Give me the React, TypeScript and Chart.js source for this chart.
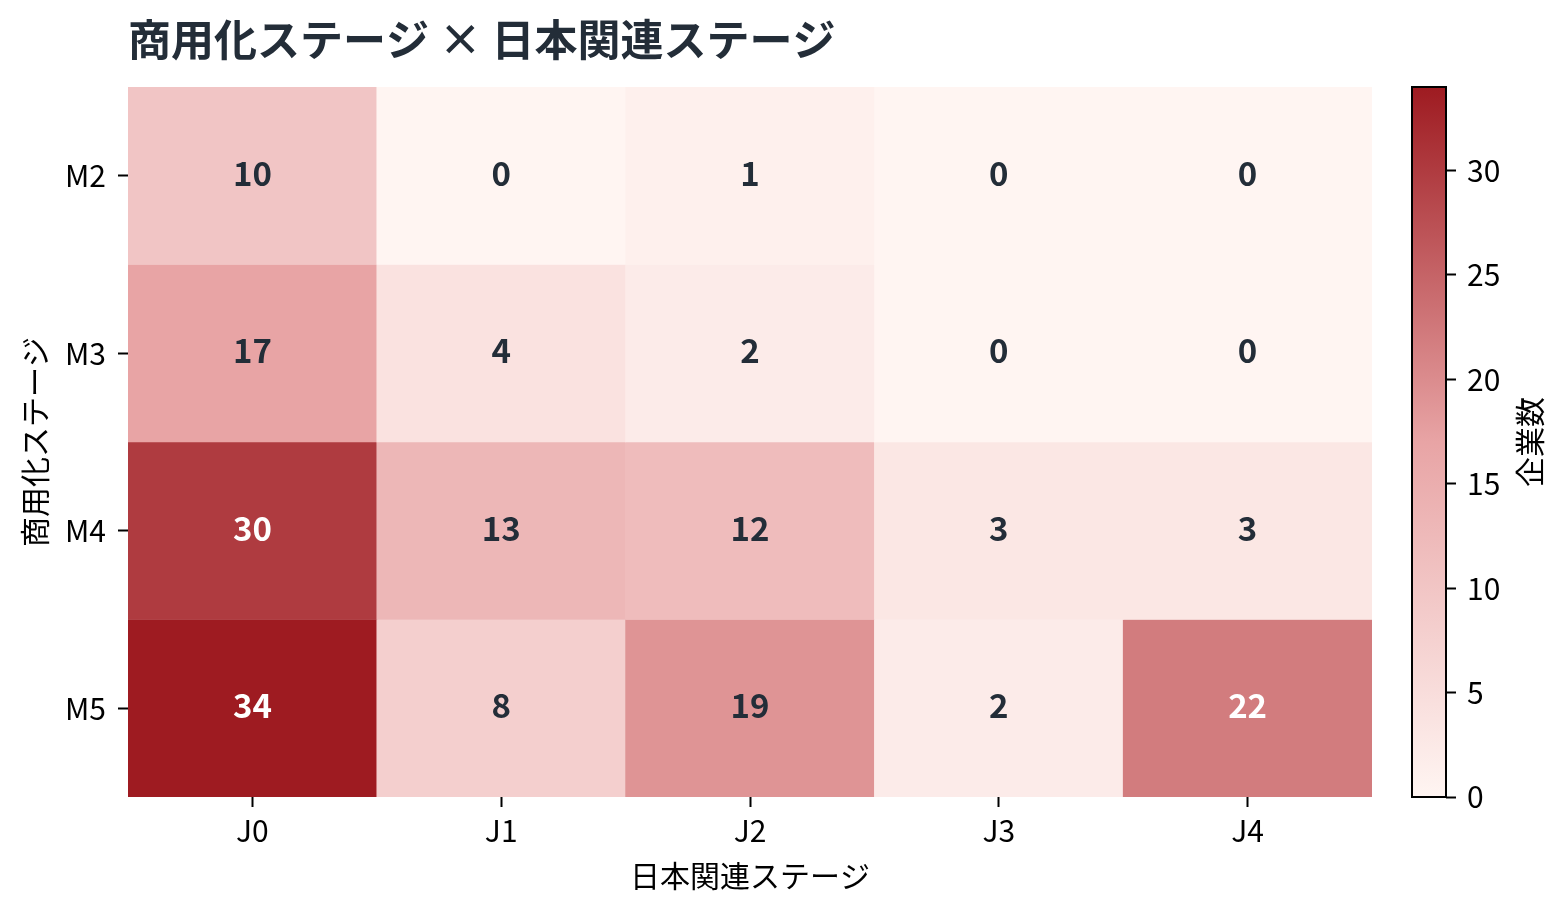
import React, { useEffect, useRef } from 'react';
import { Chart, registerables } from 'chart.js';

Chart.register(...registerables);

// ---- data ----
const columns = ['J0', 'J1', 'J2', 'J3', 'J4'];
const rows = ['M2', 'M3', 'M4', 'M5'];
const m2Counts = [10, 0, 1, 0, 0];
const m3Counts = [17, 4, 2, 0, 0];
const m4Counts = [30, 13, 12, 3, 3];
const m5Counts = [34, 8, 19, 2, 22];
const counts = [m2Counts, m3Counts, m4Counts, m5Counts];
const colorbarTicks = [0, 5, 10, 15, 20, 25, 30];
const colorMax = 34;
const titleText = '商用化ステージ × 日本関連ステージ';
const xTitle = '日本関連ステージ';
const yTitle = '商用化ステージ';
const cbTitle = '企業数';

// ---- style ----
const FONT = '"Noto Sans CJK JP", "Noto Sans", sans-serif';
const DARK = '#232d38';
const stops: [number, number[]][] = [
  [0, [255, 245, 242]],
  [0.5, [232, 164, 165]],
  [1, [158, 27, 33]],
];

function colorFor(v: number): string {
  const t = Math.max(0, Math.min(1, v / colorMax));
  for (let k = 0; k < stops.length - 1; k++) {
    const [t0, c0] = stops[k];
    const [t1, c1] = stops[k + 1];
    if (t <= t1) {
      const f = (t - t0) / (t1 - t0);
      const c = c0.map((a, idx) => Math.round(a + (c1[idx] - a) * f));
      return `rgb(${c[0]},${c[1]},${c[2]})`;
    }
  }
  const c = stops[stops.length - 1][1];
  return `rgb(${c[0]},${c[1]},${c[2]})`;
}

function textColorFor(v: number): string {
  return v > colorMax * 0.6 ? '#ffffff' : DARK;
}

const cellLabels = {
  id: 'cellLabels',
  afterDatasetsDraw(chart: any) {
    const ctx = chart.ctx;
    ctx.save();
    ctx.font = `bold 33px ${FONT}`;
    ctx.textAlign = 'center';
    ctx.textBaseline = 'middle';
    chart.data.datasets.forEach((_ds: any, i: number) => {
      const meta = chart.getDatasetMeta(i);
      meta.data.forEach((el: any, j: number) => {
        const v = counts[i][j];
        ctx.fillStyle = textColorFor(v);
        ctx.fillText(String(v), el.x, (el.y + el.base) / 2 - 2.5);
      });
    });
    ctx.restore();
  },
};

const mainTitle = {
  id: 'mainTitle',
  afterDraw(chart: any) {
    const ctx = chart.ctx;
    ctx.save();
    ctx.font = `bold 43px ${FONT}`;
    ctx.fillStyle = DARK;
    ctx.textAlign = 'left';
    ctx.textBaseline = 'middle';
    ctx.fillText(titleText, chart.chartArea.left, 40);
    ctx.restore();
  },
};

const cbFrame = {
  id: 'cbFrame',
  afterDraw(chart: any) {
    const ctx = chart.ctx;
    const a = chart.chartArea;
    ctx.save();
    ctx.strokeStyle = '#000';
    ctx.lineWidth = 2;
    ctx.strokeRect(a.left, a.top, a.right - a.left, a.bottom - a.top);
    ctx.font = `30px ${FONT}`;
    ctx.fillStyle = '#000';
    ctx.textAlign = 'center';
    ctx.textBaseline = 'middle';
    ctx.translate(a.right + 84, (a.top + a.bottom) / 2);
    ctx.rotate(-Math.PI / 2);
    ctx.fillText(cbTitle, 0, 0);
    ctx.restore();
  },
};

export default function App() {
  const mainRef = useRef<HTMLCanvasElement>(null);
  const cbRef = useRef<HTMLCanvasElement>(null);

  useEffect(() => {
    document.body.style.margin = '0';
    const tickFont = { family: FONT, size: 30 };

    const main = new Chart(mainRef.current as HTMLCanvasElement, {
      type: 'bar',
      data: {
        labels: columns,
        datasets: rows.map((r, i) => ({
          label: r,
          data: columns.map(() => [i, i + 1]),
          backgroundColor: counts[i].map(colorFor),
          borderWidth: 0,
          barPercentage: 1,
          categoryPercentage: 1,
          grouped: false,
        })) as any,
      },
      options: {
        animation: false,
        responsive: true,
        maintainAspectRatio: false,
        layout: { padding: { left: 0, top: 87, right: 28, bottom: 0 } },
        plugins: {
          legend: { display: false },
          tooltip: { enabled: false },
          title: { display: false },
        },
        scales: {
          x: {
            type: 'category',
            offset: true,
            grid: {
              offset: false,
              drawOnChartArea: false,
              drawTicks: true,
              tickLength: 10,
              tickWidth: 2,
              tickColor: '#000',
            },
            border: { display: false },
            ticks: { color: '#000', font: tickFont, padding: 6, maxRotation: 0, autoSkip: false },
            title: {
              display: true,
              text: xTitle,
              color: '#000',
              font: tickFont,
              padding: { top: 0, bottom: 22 },
            },
            afterFit: (s: any) => {
              s.height = 119;
            },
          },
          y: {
            type: 'linear',
            min: 0,
            max: rows.length,
            reverse: true,
            afterBuildTicks: (s: any) => {
              s.ticks = rows.map((_r, i) => ({ value: i + 0.5 }));
            },
            grid: {
              drawOnChartArea: false,
              drawTicks: true,
              tickLength: 10,
              tickWidth: 2,
              tickColor: '#000',
            },
            border: { display: false },
            ticks: {
              color: '#000',
              font: tickFont,
              padding: 12,
              autoSkip: false,
              callback: (_v: any, i: number) => rows[i],
            },
            title: {
              display: true,
              text: yTitle,
              color: '#000',
              font: tickFont,
              padding: { top: 17, bottom: 0 },
            },
            afterFit: (s: any) => {
              s.width = 128;
            },
          },
        },
      } as any,
      plugins: [cellLabels, mainTitle],
    });

    const cb = new Chart(cbRef.current as HTMLCanvasElement, {
      type: 'bar',
      data: {
        labels: [cbTitle],
        datasets: [
          {
            data: [[0, colorMax]] as any,
            backgroundColor: (c: any) => {
              const chart = c.chart;
              const ys = chart.scales && chart.scales.y;
              if (!chart.chartArea || !ys) return colorFor(colorMax / 2);
              const g = chart.ctx.createLinearGradient(
                0,
                ys.getPixelForValue(0),
                0,
                ys.getPixelForValue(colorMax)
              );
              stops.forEach(([t, col]) => g.addColorStop(t, `rgb(${col[0]},${col[1]},${col[2]})`));
              return g;
            },
            borderWidth: 0,
            barPercentage: 1,
            categoryPercentage: 1,
          },
        ],
      },
      options: {
        animation: false,
        responsive: true,
        maintainAspectRatio: false,
        layout: { padding: { left: 32, top: 87, right: 0, bottom: 119 } },
        plugins: { legend: { display: false }, tooltip: { enabled: false } },
        scales: {
          x: { display: false },
          y: {
            position: 'right',
            min: 0,
            max: colorMax,
            afterBuildTicks: (s: any) => {
              s.ticks = colorbarTicks.map((v) => ({ value: v }));
            },
            grid: {
              drawOnChartArea: false,
              drawTicks: true,
              tickLength: 10,
              tickWidth: 2,
              tickColor: '#000',
            },
            border: { display: false },
            ticks: { color: '#000', font: tickFont, padding: 11 },
            afterFit: (s: any) => {
              s.width = 122;
            },
          },
        },
      } as any,
      plugins: [cbFrame],
    });

    return () => {
      main.destroy();
      cb.destroy();
    };
  }, []);

  return (
    <div style={{ position: 'relative', width: 1568, height: 916, background: '#fff' }}>
      <div style={{ position: 'absolute', left: 0, top: 0, width: 1400, height: 916 }}>
        <canvas ref={mainRef} />
      </div>
      <div style={{ position: 'absolute', left: 1380, top: 0, width: 188, height: 916 }}>
        <canvas ref={cbRef} />
      </div>
    </div>
  );
}
